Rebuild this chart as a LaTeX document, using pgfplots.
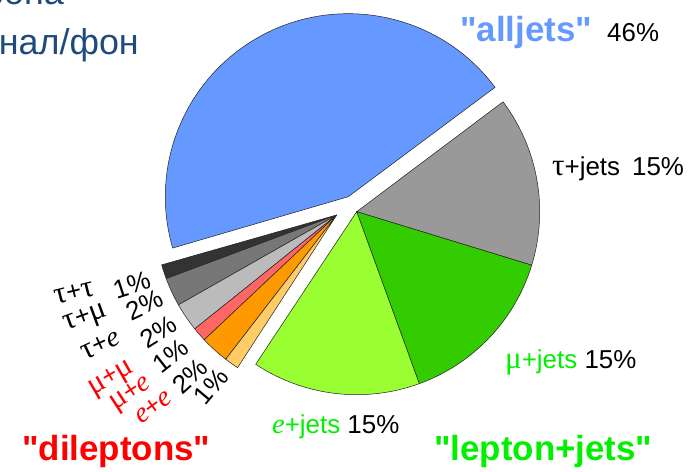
\documentclass[border=0pt]{standalone}
\usepackage{pgfplots}
\pgfplotsset{compat=1.18}
\usepackage{fontspec}
\setmainfont{Liberation Sans}
\newfontfamily\qf{Liberation Sans}
\newfontfamily\symf{Liberation Serif}
\definecolor{cAll}{HTML}{6699FF}
\definecolor{cTauJ}{HTML}{999999}
\definecolor{cMuJ}{HTML}{33CC00}
\definecolor{cEJ}{HTML}{99FF33}
\definecolor{cTT}{HTML}{333333}
\definecolor{cTM}{HTML}{777777}
\definecolor{cTE}{HTML}{BBBBBB}
\definecolor{cMM}{HTML}{FF6666}
\definecolor{cME}{HTML}{FF9900}
\definecolor{cEE}{HTML}{FFCC66}
\definecolor{cGreen}{HTML}{00F000}
\definecolor{cRed}{HTML}{FF0000}
\definecolor{cBlueTxt}{HTML}{6699FF}
\definecolor{cNavy}{HTML}{1F4A7E}
\definecolor{edge}{HTML}{222222}
\newcommand{\tauc}{{\symf\scalebox{1.2}{τ}}}
\newcommand{\muc}{{\symf\scalebox{1.2}{μ}}}
\newcommand{\ec}{{\symf\itshape\scalebox{1.1}{e}}}
\newcommand{\dq}{{\qf"}}
\begin{document}
\begin{tikzpicture}
\begin{axis}[x=1bp,y=1bp,xmin=0,xmax=695,ymin=0,ymax=472,hide axis,clip=false]
% alljets
\addplot[fill=cAll,draw=edge,line width=0.5bp] coordinates {(348.3,275.3)} -- ++(36.7:183bp) arc[start angle=36.7,end angle=196.3,radius=183bp] -- cycle;
% lepton+jets
\addplot[fill=cTauJ,draw=edge,line width=0.5bp] coordinates {(356.7,260.3)} -- ++(-17.0:183bp) arc[start angle=-17.0,end angle=36.9,radius=183bp] -- cycle;
\addplot[fill=cMuJ,draw=edge,line width=0.5bp] coordinates {(356.7,260.3)} -- ++(-70.0:183bp) arc[start angle=-70.0,end angle=-17.0,radius=183bp] -- cycle;
\addplot[fill=cEJ,draw=edge,line width=0.5bp] coordinates {(356.7,260.3)} -- ++(-123.5:183bp) arc[start angle=-123.5,end angle=-70.0,radius=183bp] -- cycle;
% dileptons
\addplot[fill=cTT,draw=edge,line width=0.5bp] coordinates {(336.7,257)} -- ++(195.9:182bp) arc[start angle=195.9,end angle=200.47,radius=182bp] -- cycle;
\addplot[fill=cTM,draw=edge,line width=0.5bp] coordinates {(336.7,257)} -- ++(200.47:182bp) arc[start angle=200.47,end angle=209.6,radius=182bp] -- cycle;
\addplot[fill=cTE,draw=edge,line width=0.5bp] coordinates {(336.7,257)} -- ++(209.6:182bp) arc[start angle=209.6,end angle=218.73,radius=182bp] -- cycle;
\addplot[fill=cMM,draw=edge,line width=0.5bp] coordinates {(336.7,257)} -- ++(218.73:182bp) arc[start angle=218.73,end angle=223.3,radius=182bp] -- cycle;
\addplot[fill=cME,draw=edge,line width=0.5bp] coordinates {(336.7,257)} -- ++(223.3:182bp) arc[start angle=223.3,end angle=232.43,radius=182bp] -- cycle;
\addplot[fill=cEE,draw=edge,line width=0.5bp] coordinates {(336.7,257)} -- ++(232.43:182bp) arc[start angle=232.43,end angle=237.0,radius=182bp] -- cycle;

% labels
\node[anchor=base west,inner sep=0pt,font=\fontsize{35}{40}\selectfont\bfseries,text=cBlueTxt] at (axis cs:460,430.3) {\dq alljets\dq};
\node[anchor=base west,inner sep=0pt,font=\fontsize{26}{30}\selectfont] at (axis cs:607,430.3) {46\%};
\node[anchor=base west,inner sep=0pt,font=\fontsize{26}{30}\selectfont] at (axis cs:552,296.3) {\tauc+jets\hspace{12bp}15\%};
\node[anchor=base west,inner sep=0pt,font=\fontsize{26}{30}\selectfont] at (axis cs:505,103.7) {\textcolor{cGreen}{\muc+jets} 15\%};
\node[anchor=base west,inner sep=0pt,font=\fontsize{26}{30}\selectfont] at (axis cs:272,38) {\textcolor{cGreen}{\ec+jets} 15\%};
\node[anchor=base west,inner sep=0pt,font=\fontsize{35}{40}\selectfont\bfseries,text=cRed] at (axis cs:22,11) {\dq dileptons\dq};
\node[anchor=base west,inner sep=0pt,font=\fontsize{35}{40}\selectfont\bfseries,text=cGreen] at (axis cs:434,11) {\dq lepton+jets\dq};
\node[anchor=base east,inner sep=0pt,font=\fontsize{36}{40}\selectfont,text=cNavy] at (axis cs:139,417) {сигнал/фон};
\node[anchor=base east,inner sep=0pt,font=\fontsize{36}{40}\selectfont,text=cNavy] at (axis cs:64,467) {фона};

% rotated dilepton labels
\begin{scope}[every node/.style={inner sep=0pt,font=\fontsize{26}{30}\selectfont}]
\node[rotate=14] at (axis cs:74,179) {\tauc+\tauc};
\node[rotate=18] at (axis cs:131.7,187) {1\%};
\node[rotate=20] at (axis cs:85.7,152.7) {\tauc+\muc};
\node[rotate=25] at (axis cs:145,167) {2\%};
\node[rotate=25] at (axis cs:100.7,127) {\tauc+\ec};
\node[rotate=32] at (axis cs:158.3,140.3) {2\%};
\node[rotate=38] at (axis cs:170.3,116.3) {1\%};
\node[rotate=42] at (axis cs:190,96) {2\%};
\node[rotate=50] at (axis cs:211,86) {1\%};
\node[rotate=30,text=cRed] at (axis cs:112.3,92.7) {\muc+\muc};
\node[rotate=33,text=cRed] at (axis cs:131.7,77) {\muc+\ec};
\node[rotate=36,text=cRed] at (axis cs:153.3,65.3) {\ec+\ec};
\end{scope}
\end{axis}
\pgfresetboundingbox
\path[use as bounding box] (current axis.south west) rectangle (current axis.north east);
\end{tikzpicture}
\end{document}
